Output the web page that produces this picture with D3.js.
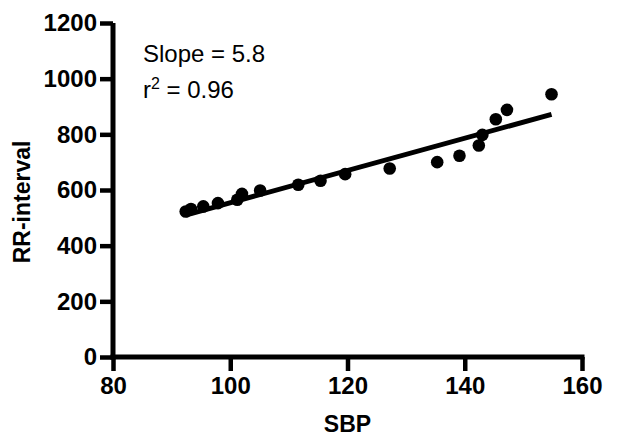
<!DOCTYPE html>
<html>
<head>
<meta charset="utf-8">
<script src="https://cdn.jsdelivr.net/npm/d3@7"></script>
<style>
  body { margin: 0; background: #fff; }
  text { font-family: Arial, "Liberation Sans", Helvetica, sans-serif; }
</style>
</head>
<body>
<div id="chart"></div>
<script>
// values
const sbp = [92.4, 93.3, 95.4, 97.9, 101.2, 102.0, 105.1, 111.6, 115.4, 119.6,
             127.2, 135.3, 139.1, 142.4, 143.0, 145.3, 147.2, 154.8];
const rrInterval = [523, 532, 541, 553, 565, 586, 598, 619, 633, 657,
                    677, 700, 723, 760, 798, 854, 888, 944];
const fitLine = [5.8, -26];   // slope, intercept
const xTicks = [80, 100, 120, 140, 160];
const yTicks = [0, 200, 400, 600, 800, 1000, 1200];

const margin = { top: 23, right: 60, bottom: 81, left: 113 },
      width = 642 - margin.left - margin.right,
      height = 438 - margin.top - margin.bottom;

const svg = d3.select('#chart').append('svg')
    .attr('width', 642)
    .attr('height', 438)
    .append('g')
    .attr('transform', 'translate(' + margin.left + ',' + margin.top + ')');

const x = d3.scaleLinear().domain([80, 160]).range([0, width]);
const y = d3.scaleLinear().domain([0, 1200]).range([height, 0]);

// regression line
const x0 = d3.min(sbp), x1 = d3.max(sbp);
svg.append('line')
    .attr('x1', x(x0)).attr('y1', y(fitLine[0] * x0 + fitLine[1]))
    .attr('x2', x(x1)).attr('y2', y(fitLine[0] * x1 + fitLine[1]))
    .attr('stroke', '#000')
    .attr('stroke-width', 5);

// points
svg.append('g')
    .selectAll('circle')
    .data(sbp)
    .enter().append('circle')
    .attr('cx', d => x(d))
    .attr('cy', (d, i) => y(rrInterval[i]))
    .attr('r', 6.3)
    .attr('fill', '#000');

// axes
const xAxis = svg.append('g')
    .attr('transform', 'translate(0,' + height + ')')
    .call(d3.axisBottom(x).tickValues(xTicks).tickSize(14).tickPadding(6).tickFormat(d3.format('d')));

const yAxis = svg.append('g')
    .call(d3.axisLeft(y).tickValues(yTicks).tickSize(13).tickPadding(3).tickFormat(d3.format('d')));

[xAxis, yAxis].forEach(a => {
  a.select('.domain').attr('stroke', '#000').attr('stroke-width', 5);
  a.selectAll('.tick line').attr('stroke', '#000').attr('stroke-width', 4.5);
  a.selectAll('.tick text')
      .attr('fill', '#000')
      .style('font-size', '24px')
      .style('font-weight', 'bold');
});
xAxis.select('.domain').attr('d', 'M-2.5,0H' + (width + 2.5));
yAxis.select('.domain').attr('d', 'M0,' + (height + 2.5) + 'V0');

// axis titles
svg.append('text')
    .attr('x', width / 2)
    .attr('y', height + 75)
    .attr('text-anchor', 'middle')
    .style('font-size', '23px')
    .style('font-weight', 'bold')
    .text('SBP');

svg.append('text')
    .attr('transform', 'translate(' + (-83) + ',' + (height / 2 + 12) + ') rotate(-90)')
    .attr('text-anchor', 'middle')
    .style('font-size', '23px')
    .style('font-weight', 'bold')
    .text('RR-interval');

// fit annotation
svg.append('text')
    .attr('x', 30)
    .attr('y', 39)
    .style('font-size', '24px')
    .text('Slope = 5.8');

const r2 = svg.append('text')
    .attr('x', 30)
    .attr('y', 75)
    .style('font-size', '24px');
r2.append('tspan').text('r');
r2.append('tspan').attr('dy', -9).style('font-size', '16px').text('2');
r2.append('tspan').attr('dy', 9).text(' = 0.96');
</script>
</body>
</html>
